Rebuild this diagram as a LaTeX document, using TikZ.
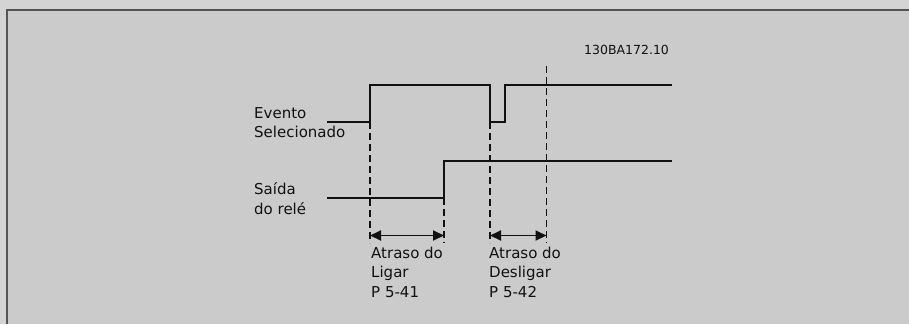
\documentclass[tikz,border=0pt]{standalone}
\usepackage{fontspec}
\setmainfont{DejaVu Sans}
\usetikzlibrary{arrows.meta}
\definecolor{outerbg}{HTML}{D4D4D4}
\definecolor{innerbg}{HTML}{CBCBCB}
\definecolor{framecol}{HTML}{555555}
\definecolor{ink}{HTML}{111111}
\tikzset{
  signal/.style={draw=ink, line width=2pt, line join=miter},
  guide/.style={draw=ink, line width=1.2pt, dash pattern=on 7pt off 4pt},
  span/.style={draw=ink, line width=1.8pt, {Triangle[length=11pt,width=10pt]}-{Triangle[length=11pt,width=10pt]}},
  lbl/.style={anchor=base west, inner sep=0pt, text=ink, font=\fontsize{15}{19.5}\selectfont, align=left},
  code/.style={anchor=base west, inner sep=0pt, text=ink, font=\fontsize{12.5}{14}\selectfont},
}
\begin{document}
\begin{tikzpicture}[x=1pt,y=-1pt]
\useasboundingbox (0,0) rectangle (909,324);
\fill[outerbg] (0,0) rectangle (909,324);
\fill[innerbg] (7,10) rectangle (909,324);
\draw[framecol, line width=2.2pt] (7,324) -- (7,10) -- (909,10);

% text (anchored at the baseline of the last line)
\node[code] (id) at (584,54) {130BA172.10};
\node[lbl] (ev) at (254,137.7) {Evento\\Selecionado};
\node[lbl] (rl) at (254,214) {Saída\\do relé};
\node[lbl] (on) at (371,297) {Atraso do\\Ligar\\P 5-41};
\node[lbl] (off) at (489,297) {Atraso do\\Desligar\\P 5-42};

% event signal
\coordinate (e0) at (327,122);
\coordinate (e1) at (370,122);
\coordinate (e2) at (370,85);
\coordinate (e3) at (490,85);
\coordinate (e4) at (490,122);
\coordinate (e5) at (505,122);
\coordinate (e6) at (505,85);
\coordinate (e7) at (672,85);
\draw[signal] (e0) -- (e1) -- (e2) -- (e3) -- (e4) -- (e5) -- (e6) -- (e7);

% relay signal
\coordinate (r0) at (327,198);
\coordinate (r1) at (444,198);
\coordinate (r2) at (444,160.5);
\coordinate (r3) at (672,160.5);
\draw[signal] (r0) -- (r1) -- (r2) -- (r3);

% guide lines
\coordinate (g1t) at (370,122);  \coordinate (g1b) at (370,243);
\coordinate (g2t) at (444,198);  \coordinate (g2b) at (444,243);
\coordinate (g3t) at (490,122);  \coordinate (g3b) at (490,243);
\coordinate (g4t) at (546.5,66); \coordinate (g4b) at (546.5,243);
\draw[guide] (g1t) -- (g1b);
\draw[guide] (g2t) -- (g2b);
\draw[guide] (g3t) -- (g3b);
\draw[guide] (g4t) -- (g4b);

% delay spans
\coordinate (a1) at (370,235.5);
\coordinate (a2) at (444,235.5);
\coordinate (a3) at (490,235.5);
\coordinate (a4) at (546.5,235.5);
\draw[span] (a1) -- (a2);
\draw[span] (a3) -- (a4);
\end{tikzpicture}
\end{document}
